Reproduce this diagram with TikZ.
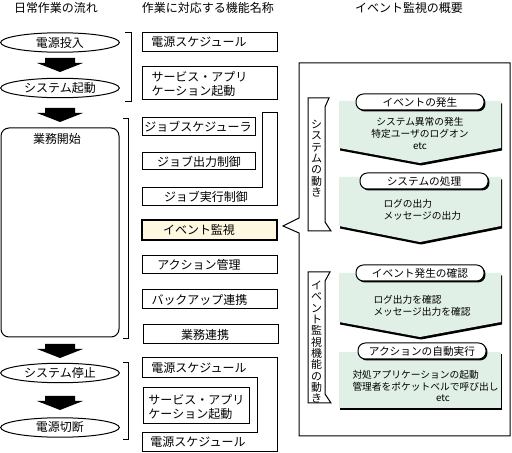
\documentclass[tikz,border=0pt]{standalone}
\usepackage{fontspec}
\setmainfont{Noto Sans CJK JP}
\usetikzlibrary{shapes.geometric,shadows}
\definecolor{mint}{RGB}{224,240,230}
\definecolor{cream}{RGB}{255,248,224}
\begin{document}
\lineskiplimit=-5pt\relax
\begin{tikzpicture}[x=0.75pt,y=-0.75pt,line width=0.75pt,
  lbl/.style={inner sep=0pt,font=\fontsize{9}{10.5}\selectfont},
  small/.style={inner sep=0pt,font=\fontsize{7.3}{9}\selectfont},
  vert/.style={inner sep=0pt,align=center,font=\fontsize{8.2}{8.5}\selectfont},
  oval/.style={draw,ellipse,inner sep=0pt,minimum width=89pt,minimum height=14.6pt,font=\fontsize{9}{10.5}\selectfont},
  pill/.style={draw,fill=white,rounded corners=5.5pt,inner sep=0pt,minimum width=96pt,minimum height=12pt,
     font=\fontsize{8}{10}\selectfont,
     drop shadow={shadow xshift=1.1pt,shadow yshift=-1.1pt,opacity=1,fill=black}},
  dnarrow/.pic={\fill[black] (-15,0) -- (15,0) -- (15,5) -- (23,5) -- (0,14) -- (-23,5) -- (-15,5) -- cycle;},
]
\useasboundingbox (0,0) rectangle (512,453);

% titles
\node[lbl] (t1) at (56,8) {日常作業の流れ};
\node[lbl] (t2) at (208,8) {作業に対応する機能名称};
\node[lbl] (t3) at (409,8) {イベント監視の概要};

% left column
\node[oval] (e1) at (60,42.5) {電源投入};
\pic at (60,58) {dnarrow};
\node[oval] (e2) at (60,88) {システム起動};
\pic at (60,108) {dnarrow};
\draw[rounded corners=6pt] (1,128) rectangle (119,337);
\node[lbl] (gyo) at (57,139) {業務開始};
\pic at (60,344) {dnarrow};
\node[oval] (e3) at (60,373) {システム停止};
\pic at (60,396) {dnarrow};
\node[oval] (e4) at (60,427.5) {電源切断};

% brackets
\draw (125,33) -- (131,33) -- (131,102) -- (125,102);
\draw (123,119) -- (128,119) -- (128,339) -- (123,339);
\draw (123,363) -- (128,363) -- (128,440) -- (123,440);

% middle column
\draw (142,33) rectangle (277,52);
\node[lbl] (f1) at (199,42.5) {電源スケジュール};
\draw (142,67) rectangle (277,100);
\node[lbl,anchor=west,align=left] (f2) at (151,84) {サービス・アプリ\\ケーション起動};
\draw (142,118) rectangle (255,136);
\node[lbl] (f3) at (198,127) {ジョブスケジューラ};
\draw (142,153) rectangle (255,170);
\node[lbl] (f4) at (199,161.5) {ジョブ出力制御};
\draw (142,188) -- (262,188) -- (262,113) -- (277,113) -- (277,206) -- (142,206) -- cycle;
\node[lbl] (f5) at (206,197) {ジョブ実行制御};
\draw[line width=1.9pt,fill=cream] (142,220) rectangle (277,240);
\node[lbl] (f6) at (199,230) {イベント監視};
\draw (142,256) rectangle (277,274);
\node[lbl] (f7) at (199,265) {アクション管理};
\draw (142,290) rectangle (277,309);
\node[lbl] (f8) at (199.5,299.5) {バックアップ連携};
\draw (143,325) rectangle (278,344);
\node[lbl] (f9) at (205,334.5) {業務連携};
\draw (142,358) -- (277,358) -- (277,452) -- (142,452) -- (142,433) -- (257,433) -- (257,378) -- (142,378) -- cycle;
\node[lbl] (f10) at (199,368.5) {電源スケジュール};
\draw (143,388) rectangle (249,424);
\node[lbl,anchor=west,align=left] (f11) at (148,407) {サービス・アプリ\\ケーション起動};
\node[lbl] (f12) at (198,442.5) {電源スケジュール};

% right panel
\draw (299,63) -- (510,63) -- (510,436) -- (299,436) -- (299,233) -- (283,226) -- (299,218) -- cycle;

% side labels
\draw (308,98) -- (329,98) -- (325,107) -- (325,222) -- (331,231) -- (308,231) -- cycle;
\node[vert] (v1) at (316.5,158.5) {シ\\ス\\テ\\ム\\の\\動\\き};
\draw (308,272) -- (330,272) -- (325,281) -- (325,394) -- (331,403) -- (308,403) -- cycle;
\node[vert] (v2) at (316.5,342) {イ\\ベ\\ン\\ト\\監\\視\\機\\能\\の\\動\\き};

% green flow boxes
\fill[black,shift={(1,2.5)}] (339,101) -- (501,101) -- (501,148) -- (420,163) -- (339,148) -- cycle;
\fill[mint] (339,101) -- (501,101) -- (501,148) -- (420,163) -- (339,148) -- cycle;
\fill[black,shift={(1,2.5)}] (339,177) -- (501,177) -- (501,226) -- (420,242) -- (339,226) -- cycle;
\fill[mint] (339,177) -- (501,177) -- (501,226) -- (420,242) -- (339,226) -- cycle;
\fill[black,shift={(1,2.5)}] (339,273) -- (501,273) -- (501,322) -- (420,337) -- (339,322) -- cycle;
\fill[mint] (339,273) -- (501,273) -- (501,322) -- (420,337) -- (339,322) -- cycle;
\fill[black,shift={(1,2.5)}] (339,352) rectangle (501,408);
\fill[mint] (339,352) rectangle (501,408);

\node[pill] (p1) at (420,102) {イベントの発生};
\node[pill] (p2) at (424,181) {システムの処理};
\node[pill] (p3) at (420,273) {イベント発生の確認};
\node[pill] (p4) at (422,351) {アクションの自動実行};

\node[small,align=center] (g1) at (420,133) {システム異常の発生\\特定ユーザのログオン\\etc};
\node[small,anchor=west,align=left] (g2) at (383,210) {ログの出力\\メッセージの出力};
\node[small,anchor=west,align=left] (g3) at (373,305.5) {ログ出力を確認\\メッセージ出力を確認};
\node[small,anchor=west,align=left] (g4) at (352,381) {対処アプリケーションの起動\\管理者をポケットベルで呼び出し};
\node[small] (g5) at (443,398) {etc};
\end{tikzpicture}
\end{document}
